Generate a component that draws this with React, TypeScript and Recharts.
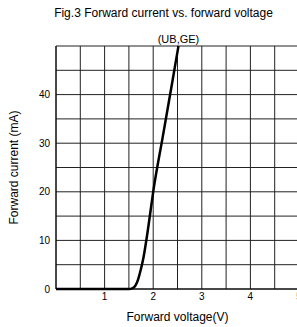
import { CartesianGrid, Label, Line, LineChart, ReferenceDot, XAxis, YAxis } from 'recharts';

const voltage = [0, 1.5, 1.58, 1.64, 1.69, 1.74, 1.8, 1.9, 2.0, 2.2, 2.4, 2.52];
const current = [0, 0, 0.2, 0.8, 2.0, 3.8, 6.5, 12.8, 20, 31.5, 43, 50];
const xTicks = [0, 0.5, 1, 1.5, 2, 2.5, 3, 3.5, 4, 4.5, 5];
const yTicks = [0, 5, 10, 15, 20, 25, 30, 35, 40, 45, 50];
const seriesName = '(UB,GE)';

const data = voltage.map((v, i) => ({ v, i: current[i] }));

const font = { fontSize: 10, fill: '#000', fontFamily: 'Liberation Sans, Arial, sans-serif' };

export default function App() {
  return (
    <div style={{ position: 'fixed', left: 0, top: 0, width: 297, height: 327, overflow: 'hidden', background: '#fff', fontFamily: 'Liberation Sans, Arial, sans-serif' }}>
      <div style={{ position: 'absolute', top: 6, width: 297, left: 15, textAlign: 'center', fontSize: 12 }}>
        Fig.3 Forward current vs. forward voltage
      </div>
      <LineChart width={300} height={327} data={data} margin={{ top: 46, right: 1, left: 0, bottom: 4 }}>
        <CartesianGrid stroke="#222" strokeWidth={1} />
        <XAxis
          dataKey="v"
          type="number"
          domain={[0, 5]}
          ticks={xTicks}
          interval={0}
          tickLine={false}
          tickSize={0}
          tickMargin={4}
          axisLine={{ stroke: '#000' }}
          tick={font}
          tickFormatter={(t: number) => (Number.isInteger(t) && t > 0 ? String(t) : '')}
          height={34}
        >
          <Label value="Forward voltage(V)" position="insideBottom" offset={2} style={{ ...font, fontSize: 12 }} />
        </XAxis>
        <YAxis
          type="number"
          domain={[0, 50]}
          ticks={yTicks}
          interval={0}
          tickLine={false}
          tickSize={0}
          tickMargin={6}
          axisLine={{ stroke: '#000' }}
          tick={font}
          tickFormatter={(t: number) => (t % 10 === 0 && t < 50 ? String(t) : '')}
          width={56}
        >
          <Label value="Forward current (mA)" angle={-90} position="insideLeft" offset={14} style={{ ...font, fontSize: 12, textAnchor: 'middle' }} />
        </YAxis>
        <Line dataKey="i" stroke="#000" strokeWidth={2.5} dot={false} type="monotone" isAnimationActive={false} />
        <ReferenceDot x={2.52} y={50} r={0} fill="none" stroke="none">
          <Label value={seriesName} position="top" offset={3} style={{ ...font, fontSize: 11 }} />
        </ReferenceDot>
      </LineChart>
    </div>
  );
}
